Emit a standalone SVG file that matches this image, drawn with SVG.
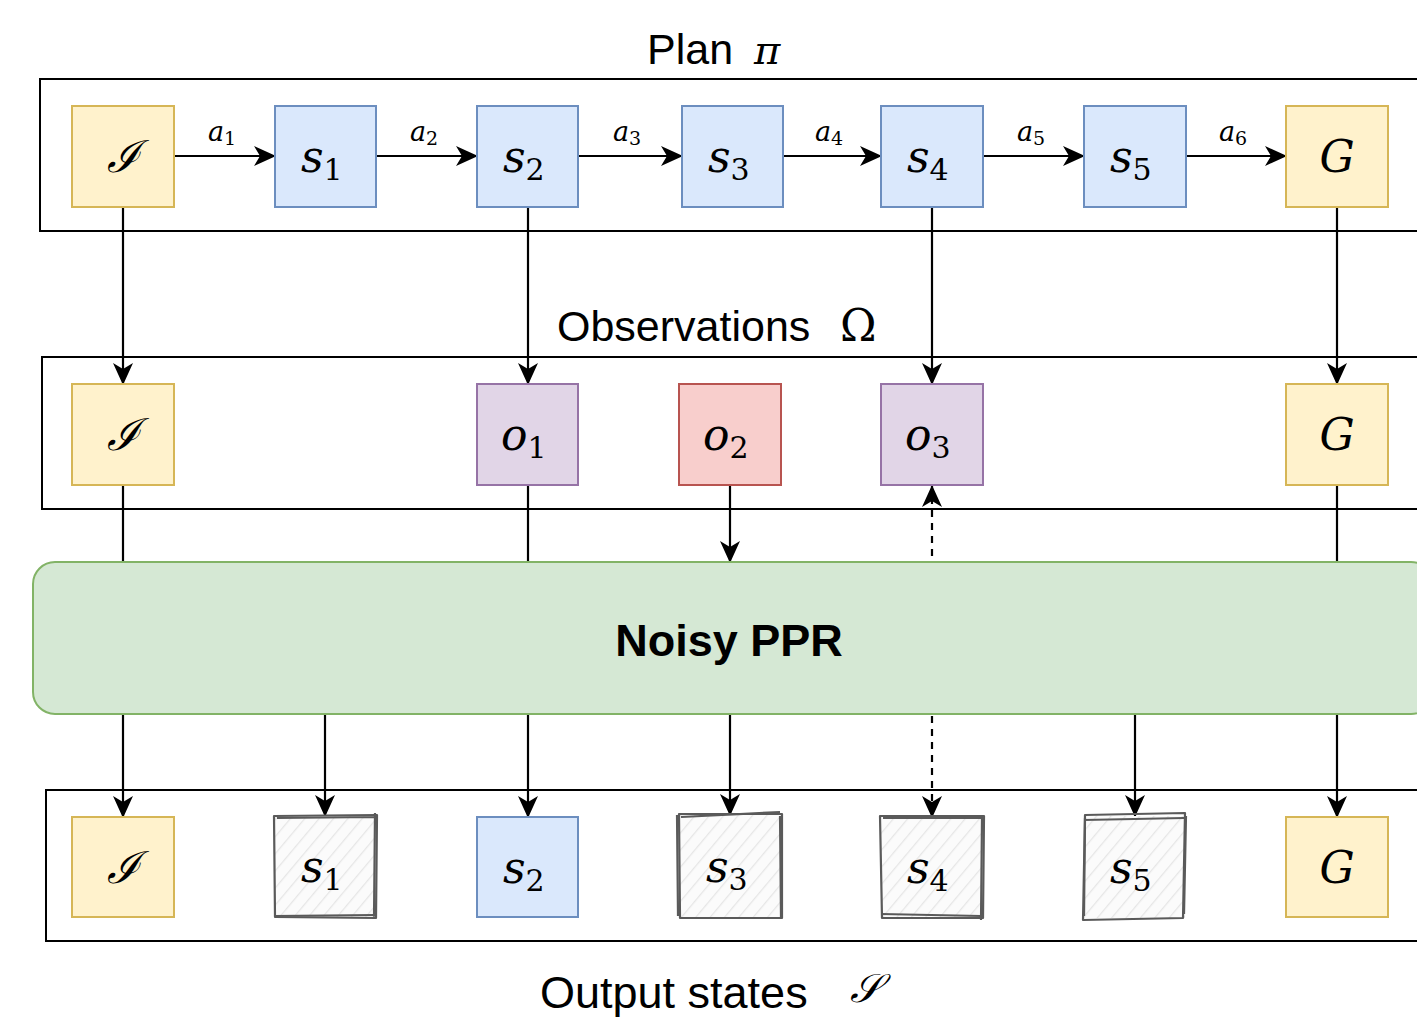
<svg xmlns="http://www.w3.org/2000/svg" width="1417" height="1017" viewBox="0 0 1417 1017">
<defs>
<style>
.cont{fill:none;stroke:#000;stroke-width:2}
.yel{fill:#fff2cc;stroke:#d6b656;stroke-width:2}
.blu{fill:#dae8fc;stroke:#6c8ebf;stroke-width:2}
.pur{fill:#e1d5e7;stroke:#9673a6;stroke-width:2}
.red{fill:#f8cecc;stroke:#b85450;stroke-width:2}
.sk{fill:url(#hatch);stroke:none}
.skl{fill:none;stroke:#5a5a5a;stroke-width:2.2;stroke-linejoin:round}
.m{font-family:"DejaVu Serif","Liberation Serif",serif;font-style:italic;font-size:44px;fill:#000}
.sub{font-family:"DejaVu Serif","Liberation Serif",serif;font-style:normal;font-size:30px}
.lab{font-family:"DejaVu Serif","Liberation Serif",serif;font-style:italic;font-size:27px;fill:#000}
.lsub{font-family:"DejaVu Serif","Liberation Serif",serif;font-style:normal;font-size:19px}
.t{font-family:"Liberation Sans",Arial,sans-serif;font-size:43px;fill:#000}
.c{stroke:#000;stroke-width:2.2;fill:none}
.d{stroke:#000;stroke-width:2.2;fill:none;stroke-dasharray:7 6}
</style>
<pattern id="hatch" patternUnits="userSpaceOnUse" width="11" height="11" patternTransform="rotate(40)">
<rect width="11" height="11" fill="#fbfbfb"/>
<line x1="0" y1="0" x2="0" y2="11" stroke="#e6e6e6" stroke-width="2.5"/>
</pattern>
<marker id="ar" viewBox="0 0 22 20" refX="21" refY="10" markerWidth="22" markerHeight="20" markerUnits="userSpaceOnUse" orient="auto">
<path d="M0,0 L22,10 L0,20 L6,10 Z" fill="#000"/>
</marker>
</defs>

<!-- containers -->
<g id="plan-container">
<rect class="cont" x="40" y="79" width="1390" height="152"/>
<text class="t" x="647" y="64">Plan</text>
<text class="m" x="754" y="64" style="font-size:40px">π</text>
</g>
<g id="obs-container">
<rect class="cont" x="42" y="357" width="1390" height="152"/>
<text class="t" x="557" y="341">Observations</text>
<text x="840" y="341" font-family="DejaVu Serif,serif" font-size="44">Ω</text>
</g>
<g id="out-container">
<rect class="cont" x="46" y="790" width="1390" height="151"/>
<text class="t" x="540" y="1008" style="font-size:45px">Output states</text>
<text class="m" x="850" y="1002" style="font-size:40px">𝒮</text>
</g>

<!-- connectors -->
<g id="connectors">
<line class="c" x1="174" y1="156" x2="275" y2="156" marker-end="url(#ar)"/>
<line class="c" x1="376" y1="156" x2="477" y2="156" marker-end="url(#ar)"/>
<line class="c" x1="578" y1="156" x2="682" y2="156" marker-end="url(#ar)"/>
<line class="c" x1="783" y1="156" x2="881" y2="156" marker-end="url(#ar)"/>
<line class="c" x1="983" y1="156" x2="1084" y2="156" marker-end="url(#ar)"/>
<line class="c" x1="1186" y1="156" x2="1286" y2="156" marker-end="url(#ar)"/>

<line class="c" x1="123" y1="207" x2="123" y2="384" marker-end="url(#ar)"/>
<line class="c" x1="528" y1="207" x2="528" y2="384" marker-end="url(#ar)"/>
<line class="c" x1="932" y1="207" x2="932" y2="384" marker-end="url(#ar)"/>
<line class="c" x1="1337" y1="207" x2="1337" y2="384" marker-end="url(#ar)"/>

<line class="c" x1="123" y1="485" x2="123" y2="562"/>
<line class="c" x1="528" y1="485" x2="528" y2="562"/>
<line class="c" x1="730" y1="485" x2="730" y2="562" marker-end="url(#ar)"/>
<line class="d" x1="932" y1="556" x2="932" y2="486" marker-end="url(#ar)"/>
<line class="c" x1="1337" y1="485" x2="1337" y2="562"/>

<line class="c" x1="123" y1="714" x2="123" y2="817" marker-end="url(#ar)"/>
<line class="c" x1="325" y1="714" x2="325" y2="816" marker-end="url(#ar)"/>
<line class="c" x1="528" y1="714" x2="528" y2="817" marker-end="url(#ar)"/>
<line class="c" x1="730" y1="714" x2="730" y2="815" marker-end="url(#ar)"/>
<line class="d" x1="932" y1="716" x2="932" y2="817" marker-end="url(#ar)"/>
<line class="c" x1="1135" y1="714" x2="1135" y2="816" marker-end="url(#ar)"/>
<line class="c" x1="1337" y1="714" x2="1337" y2="817" marker-end="url(#ar)"/>

<text class="lab" x="208" y="141">a<tspan class="lsub" dy="4">1</tspan></text>
<text class="lab" x="410" y="141">a<tspan class="lsub" dy="4">2</tspan></text>
<text class="lab" x="613" y="141">a<tspan class="lsub" dy="4">3</tspan></text>
<text class="lab" x="815" y="141">a<tspan class="lsub" dy="4">4</tspan></text>
<text class="lab" x="1017" y="141">a<tspan class="lsub" dy="4">5</tspan></text>
<text class="lab" x="1219" y="141">a<tspan class="lsub" dy="4">6</tspan></text>
</g>

<!-- row 1 -->
<g id="p-I"><rect class="yel" x="72" y="106" width="102" height="101"/><text class="m" x="123" y="172" text-anchor="middle">ℐ</text></g>
<g id="p-s1"><rect class="blu" x="275" y="106" width="101" height="101"/><text class="m" x="301" y="172">s<tspan class="sub" dy="8">1</tspan></text></g>
<g id="p-s2"><rect class="blu" x="477" y="106" width="101" height="101"/><text class="m" x="503" y="172">s<tspan class="sub" dy="8">2</tspan></text></g>
<g id="p-s3"><rect class="blu" x="682" y="106" width="101" height="101"/><text class="m" x="708" y="172">s<tspan class="sub" dy="8">3</tspan></text></g>
<g id="p-s4"><rect class="blu" x="881" y="106" width="102" height="101"/><text class="m" x="907" y="172">s<tspan class="sub" dy="8">4</tspan></text></g>
<g id="p-s5"><rect class="blu" x="1084" y="106" width="102" height="101"/><text class="m" x="1110" y="172">s<tspan class="sub" dy="8">5</tspan></text></g>
<g id="p-G"><rect class="yel" x="1286" y="106" width="102" height="101"/><text class="m" x="1337" y="172" text-anchor="middle">G</text></g>

<!-- row 2 -->
<g id="o-I"><rect class="yel" x="72" y="384" width="102" height="101"/><text class="m" x="123" y="450" text-anchor="middle">ℐ</text></g>
<g id="o-o1"><rect class="pur" x="477" y="384" width="101" height="101"/><text class="m" x="501" y="450">o<tspan class="sub" dy="8">1</tspan></text></g>
<g id="o-o2"><rect class="red" x="679" y="384" width="102" height="101"/><text class="m" x="703" y="450">o<tspan class="sub" dy="8">2</tspan></text></g>
<g id="o-o3"><rect class="pur" x="881" y="384" width="102" height="101"/><text class="m" x="905" y="450">o<tspan class="sub" dy="8">3</tspan></text></g>
<g id="o-G"><rect class="yel" x="1286" y="384" width="102" height="101"/><text class="m" x="1337" y="450" text-anchor="middle">G</text></g>

<!-- PPR -->
<g id="ppr">
<rect x="33" y="562" width="1400" height="152" rx="22" fill="#d5e8d4" stroke="#82b366" stroke-width="2"/>
<text x="729" y="656" text-anchor="middle" font-family="Liberation Sans,Arial,sans-serif" font-weight="bold" font-size="45">Noisy PPR</text>
</g>

<!-- row 3 -->
<g id="r-I"><rect class="yel" x="72" y="817" width="102" height="100"/><text class="m" x="123" y="883" text-anchor="middle">ℐ</text></g>
<g id="r-s1"><rect class="sk" x="275" y="816" width="101" height="101"/>
<path class="skl" d="M274,816 L377,815 L376,918 L275,917 Z"/><path class="skl" d="M277,818 L375,817 M375,813 L374,917 M376,915 L274,916" stroke-width="1.5"/>
<text class="m" x="301" y="882">s<tspan class="sub" dy="8">1</tspan></text></g>
<g id="r-s2"><rect class="blu" x="477" y="817" width="101" height="100"/><text class="m" x="503" y="883">s<tspan class="sub" dy="8">2</tspan></text></g>
<g id="r-s3"><rect class="sk" x="680" y="815" width="102" height="102"/>
<path class="skl" d="M679,814 L782,814 L782,918 L680,918 Z"/><path class="skl" d="M681,817 L780,812 M780,816 L781,917 M678,916 L677,815" stroke-width="1.5"/>
<text class="m" x="706" y="882">s<tspan class="sub" dy="8">3</tspan></text></g>
<g id="r-s4"><rect class="sk" x="881" y="817" width="102" height="101"/>
<path class="skl" d="M880,816 L984,816 L983,918 L882,918 Z"/><path class="skl" d="M883,818 L983,818 M982,818 L981,920 M981,916 L881,914" stroke-width="1.5"/>
<text class="m" x="907" y="883">s<tspan class="sub" dy="8">4</tspan></text></g>
<g id="r-s5"><rect class="sk" x="1084" y="816" width="101" height="102"/>
<path class="skl" d="M1085,815 L1185,813 L1183,918 L1083,920 Z"/><path class="skl" d="M1084,820 L1184,818 M1186,816 L1184,914 M1084,916 L1085,818" stroke-width="1.5"/>
<text class="m" x="1110" y="883">s<tspan class="sub" dy="8">5</tspan></text></g>
<g id="r-G"><rect class="yel" x="1286" y="817" width="102" height="100"/><text class="m" x="1337" y="883" text-anchor="middle">G</text></g>
</svg>
